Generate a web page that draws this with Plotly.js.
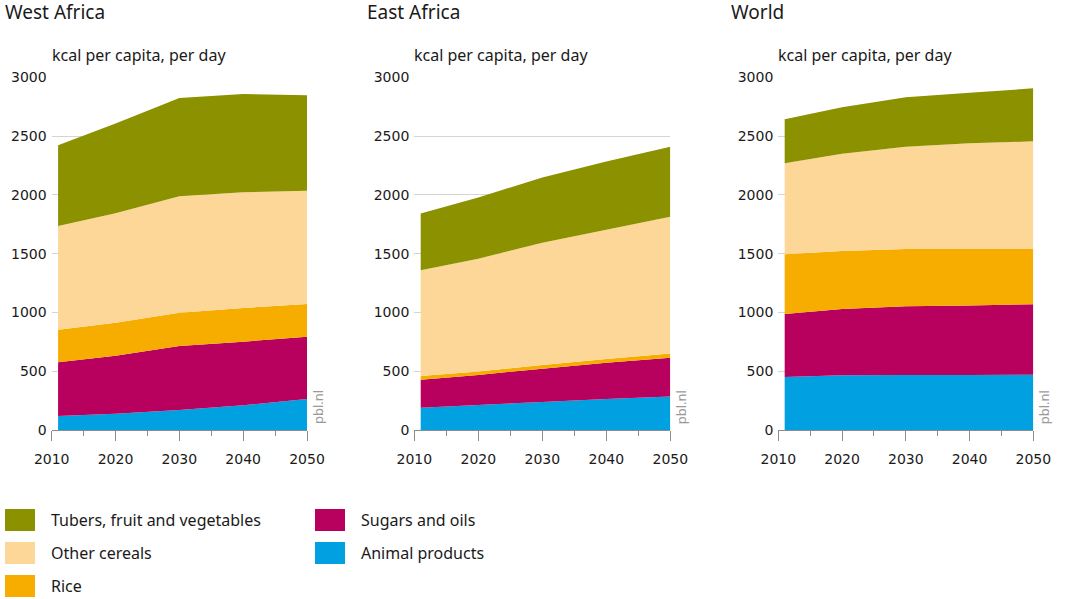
<!DOCTYPE html>
<html>
<head>
<meta charset="utf-8">
<script src="https://cdn.plot.ly/plotly-3.0.1.min.js"></script>
<style>html,body{margin:0;padding:0;background:#fff;}#chart{width:1065px;height:599px;}</style>
</head>
<body>
<div id="chart"></div>
<script>
// ---- data ----
const years = [2011, 2020, 2030, 2040, 2050];
const regions = ["West Africa", "East Africa", "World"];
const seriesNames = ["Animal products", "Sugars and oils", "Rice", "Other cereals", "Tubers, fruit and vegetables"];
const seriesColors = ["#00A0E1", "#B8005F", "#F7AD00", "#FCD797", "#8C9100"];

const westAnimal  = [119, 139, 170, 210, 264];
const westSugars  = [457, 493, 544, 541, 530];
const westRice    = [277, 281, 284, 287, 278];
const westOther   = [882, 930, 990, 984, 964];
const westTubers  = [686, 765, 836, 836, 811];

const eastAnimal  = [190, 213, 238, 264, 286];
const eastSugars  = [238, 255, 284, 309, 329];
const eastRice    = [32, 30, 30, 30, 36];
const eastOther   = [899, 959, 1041, 1100, 1163];
const eastTubers  = [482, 521, 555, 581, 595];

const worldAnimal = [451, 465, 468, 468, 470];
const worldSugars = [536, 564, 584, 592, 599];
const worldRice   = [507, 494, 488, 480, 471];
const worldOther  = [774, 827, 870, 898, 915];
const worldTubers = [375, 395, 420, 431, 451];

const xTicks = [2010, 2020, 2030, 2040, 2050];
const yTicks = [0, 500, 1000, 1500, 2000, 2500, 3000];
const yTitle = "kcal per capita, per day";
const sourceLabel = "pbl.nl";

// legend layout (column-major)
const legendOrder = ["Tubers, fruit and vegetables", "Other cereals", "Rice", "Sugars and oils", "Animal products"];

// ---- build ----
const W = 1065, H = 599;
const regionData = [
  [westAnimal, westSugars, westRice, westOther, westTubers],
  [eastAnimal, eastSugars, eastRice, eastOther, eastTubers],
  [worldAnimal, worldSugars, worldRice, worldOther, worldTubers]
];
const xPix = [[51.7, 307], [414.3, 670.3], [778.3, 1033.3]];
const yTopPix = 77.3, yBotPix = 430;
const FONT = "Noto Sans, sans-serif";
const TICKFONT = "DejaVu Sans, sans-serif";
const TXT = "#1a1a1a";

const traces = [];
const layout = {
  width: W, height: H,
  margin: {l: 0, r: 0, t: 0, b: 0},
  paper_bgcolor: "#fff", plot_bgcolor: "#fff",
  showlegend: false,
  font: {family: FONT, color: TXT, size: 14},
  annotations: [], shapes: []
};

regionData.forEach((series, r) => {
  const ax = r === 0 ? "" : String(r + 1);
  series.forEach((vals, s) => {
    traces.push({
      type: "scatter", mode: "none",
      x: years, y: vals,
      stackgroup: "g" + r,
      fill: "tonexty",
      fillcolor: seriesColors[s],
      line: {width: 0},
      name: seriesNames[s],
      xaxis: "x" + ax, yaxis: "y" + ax,
      hoverinfo: "x+y+name"
    });
  });
  layout["xaxis" + ax] = {
    domain: [xPix[r][0] / W, xPix[r][1] / W],
    range: [2010, 2050],
    anchor: "y" + ax,
    tickvals: xTicks,
    ticks: "outside", ticklen: 10, tickcolor: "#8c8c8c", tickwidth: 1,
    showline: true, linecolor: "#8c8c8c", linewidth: 1,
    showgrid: false, zeroline: false,
    ticklabelstandoff: 6,
    tickfont: {family: TICKFONT, size: 14, color: TXT},
    minor: {tickvals: [2015, 2025, 2035, 2045], ticks: "outside", ticklen: 5, tickcolor: "#8c8c8c", showgrid: false},
    fixedrange: true
  };
  layout["yaxis" + ax] = {
    domain: [1 - yBotPix / H, 1 - yTopPix / H],
    range: [0, 3000],
    anchor: "x" + ax,
    tickvals: yTicks,
    ticks: "",
    showline: false, zeroline: false,
    showgrid: true, gridcolor: "#d4d4d4", gridwidth: 1,
    ticklabelstandoff: 4,
    tickfont: {family: TICKFONT, size: 14, color: TXT},
    fixedrange: true
  };
  // panel title
  layout.annotations.push({
    xref: "paper", yref: "paper", x: (xPix[r][0] - 49) / W, y: 1 - 12 / H,
    xanchor: "left", yanchor: "middle", showarrow: false,
    text: regions[r], font: {family: FONT, size: 19, color: TXT}
  });
  // y title
  layout.annotations.push({
    xref: "paper", yref: "paper", x: (xPix[r][0] - 2) / W, y: 1 - 55 / H,
    xanchor: "left", yanchor: "middle", showarrow: false,
    text: yTitle, font: {family: FONT, size: 16, color: TXT}
  });
  // source label
  layout.annotations.push({
    xref: "paper", yref: "paper", x: (xPix[r][1] + 11) / W, y: 1 - 407 / H,
    xanchor: "center", yanchor: "middle", showarrow: false, textangle: -90,
    text: sourceLabel, font: {family: FONT, size: 13, color: "#9a9a9a"}
  });
});

// legend drawn as shapes + annotations
const legCols = [[5, 49], [315, 359]];
const legRows = [520, 553, 586];
legendOrder.forEach((name, i) => {
  const col = i < 3 ? 0 : 1;
  const row = i < 3 ? i : i - 3;
  const cy = legRows[row];
  const color = seriesColors[seriesNames.indexOf(name)];
  layout.shapes.push({
    type: "rect", xref: "paper", yref: "paper",
    x0: legCols[col][0] / W, x1: (legCols[col][0] + 30) / W,
    y0: 1 - (cy + 11) / H, y1: 1 - (cy - 11) / H,
    fillcolor: color, line: {width: 0}
  });
  layout.annotations.push({
    xref: "paper", yref: "paper", x: legCols[col][1] / W, y: 1 - cy / H,
    xanchor: "left", yanchor: "middle", showarrow: false,
    text: name, font: {family: FONT, size: 16, color: TXT}
  });
});

Plotly.newPlot("chart", traces, layout, {displayModeBar: false, staticPlot: true});
</script>
</body>
</html>
